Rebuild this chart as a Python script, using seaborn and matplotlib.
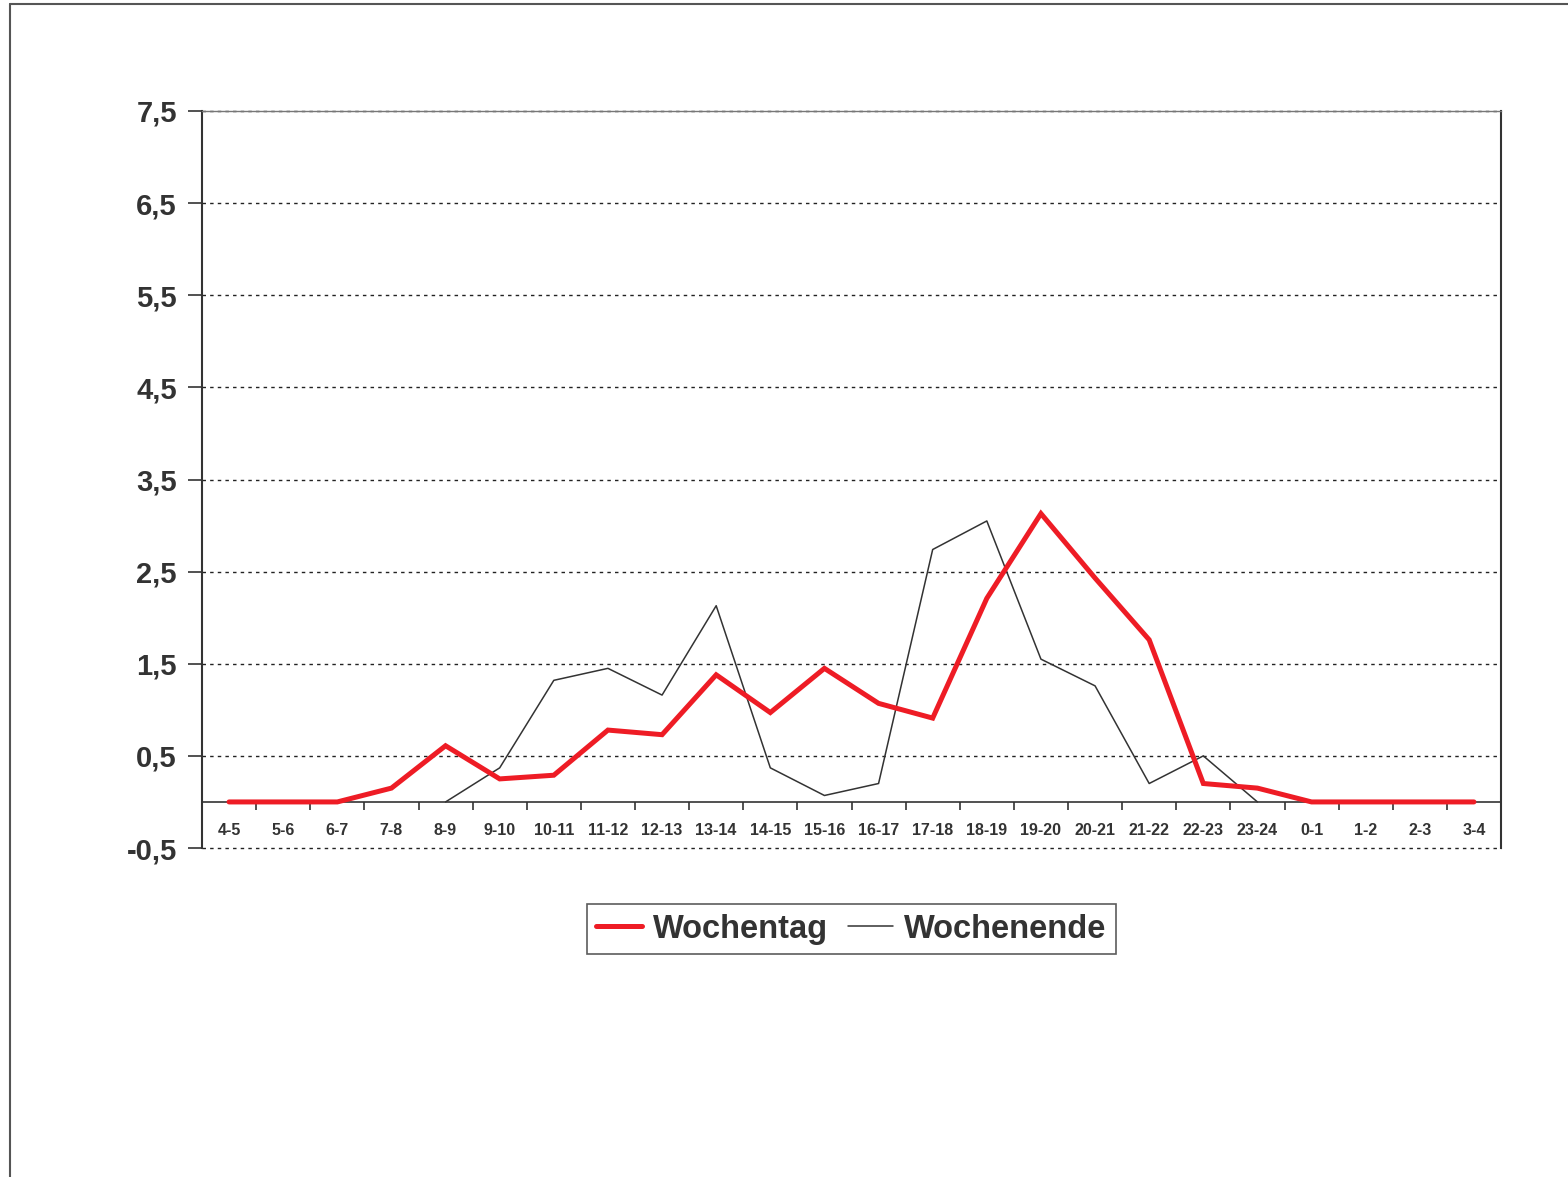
import matplotlib
matplotlib.use("Agg")
import matplotlib.pyplot as plt
from matplotlib.lines import Line2D
import numpy as np
import pandas as pd
import seaborn as sns

# data
hours = ["4-5", "5-6", "6-7", "7-8", "8-9", "9-10", "10-11", "11-12", "12-13", "13-14",
         "14-15", "15-16", "16-17", "17-18", "18-19", "19-20", "20-21", "21-22", "22-23",
         "23-24", "0-1", "1-2", "2-3", "3-4"]
wochentag = [0, 0, 0, 0.15, 0.61, 0.25, 0.29, 0.78, 0.73, 1.38,
             0.97, 1.45, 1.07, 0.91, 2.21, 3.13, 2.43, 1.76, 0.20,
             0.15, 0, 0, 0, 0]
wochenende = [np.nan, np.nan, np.nan, np.nan, 0, 0.37, 1.32, 1.45, 1.16, 2.13,
              0.37, 0.07, 0.20, 2.74, 3.05, 1.55, 1.26, 0.20, 0.50,
              0, np.nan, np.nan, np.nan, np.nan]
y_ticks = [-0.5, 0.5, 1.5, 2.5, 3.5, 4.5, 5.5, 6.5, 7.5]
y_labels = ["-0,5", "0,5", "1,5", "2,5", "3,5", "4,5", "5,5", "6,5", "7,5"]


def main():
    sns.set_style("white")
    plt.rcParams["font.family"] = ["Liberation Sans", "DejaVu Sans"]
    text_color = "#333333"

    df = pd.DataFrame({"pos": np.arange(len(hours)), "Wochentag": wochentag,
                       "Wochenende": wochenende})

    fig = plt.figure(figsize=(15.68, 11.77), dpi=100)
    ax = fig.add_axes([202 / 1568, 1 - 848 / 1177, 1299 / 1568, 737 / 1177])

    # dotted grid
    for t in y_ticks:
        ax.axhline(t, color="#222222", linestyle=(0, (2.5, 3)), linewidth=1.0,
                   zorder=1, clip_on=False)

    sns.lineplot(data=df, x="pos", y="Wochenende", ax=ax, color="#333333",
                 linewidth=1.1, zorder=3)
    sns.lineplot(data=df, x="pos", y="Wochentag", ax=ax, color="#ee1c25",
                 linewidth=3.6, zorder=4, solid_capstyle="round", solid_joinstyle="miter")

    ax.set_xlim(-0.5, len(hours) - 0.5)
    ax.set_ylim(-0.5, 7.5)

    # x axis sits at y = 0 like in Excel
    ax.spines["bottom"].set_position(("data", 0))
    ax.spines["bottom"].set_color("#333333")
    ax.spines["bottom"].set_linewidth(1.2)
    ax.spines["left"].set_color("#333333")
    ax.spines["left"].set_linewidth(1.5)
    ax.spines["right"].set_color("#333333")
    ax.spines["right"].set_linewidth(1.5)
    ax.spines["top"].set_color("#777777")
    ax.spines["top"].set_linewidth(1.0)

    ax.set_xticks(np.arange(len(hours)))
    ax.set_xticklabels(hours, fontsize=11.5, fontweight="bold", color=text_color)
    ax.set_xticks(np.arange(len(hours) + 1) - 0.5, minor=True)
    ax.tick_params(axis="x", which="major", bottom=True, length=0, pad=15)
    ax.tick_params(axis="x", which="minor", bottom=True, length=6, width=1.2,
                   color="#333333", direction="out")

    ax.set_yticks(y_ticks)
    ax.set_yticklabels(y_labels, fontsize=21, fontweight="bold", color=text_color)
    ax.tick_params(axis="y", left=True, length=10, width=1.2, color="#333333",
                   direction="out", pad=8)

    ax.set_xlabel("")
    ax.set_ylabel("")

    handles = [Line2D([], [], color="#ee1c25", linewidth=3.6, solid_capstyle="round"),
               Line2D([], [], color="#333333", linewidth=1.1)]
    leg = ax.legend(handles, ["Wochentag", "Wochenende"], loc="center",
                    bbox_to_anchor=(0.5, -0.11), ncol=2, frameon=True, fancybox=False,
                    prop={"size": 23.5, "weight": "bold"}, handlelength=1.4,
                    handletextpad=0.33, columnspacing=0.6, borderpad=0.3,
                    borderaxespad=0)
    leg.get_frame().set_edgecolor("#333333")
    leg.get_frame().set_linewidth(1.2)
    for txt in leg.get_texts():
        txt.set_color(text_color)

    # outer chart border (cut at right and bottom)
    fig.add_artist(Line2D([10 / 1568, 1.0], [1 - 4 / 1177, 1 - 4 / 1177],
                          color="#555555", linewidth=1.5, transform=fig.transFigure))
    fig.add_artist(Line2D([10 / 1568, 10 / 1568], [0.0, 1 - 4 / 1177],
                          color="#555555", linewidth=1.5, transform=fig.transFigure))

    fig.savefig("out.png", dpi=100)


if __name__ == "__main__":
    main()
